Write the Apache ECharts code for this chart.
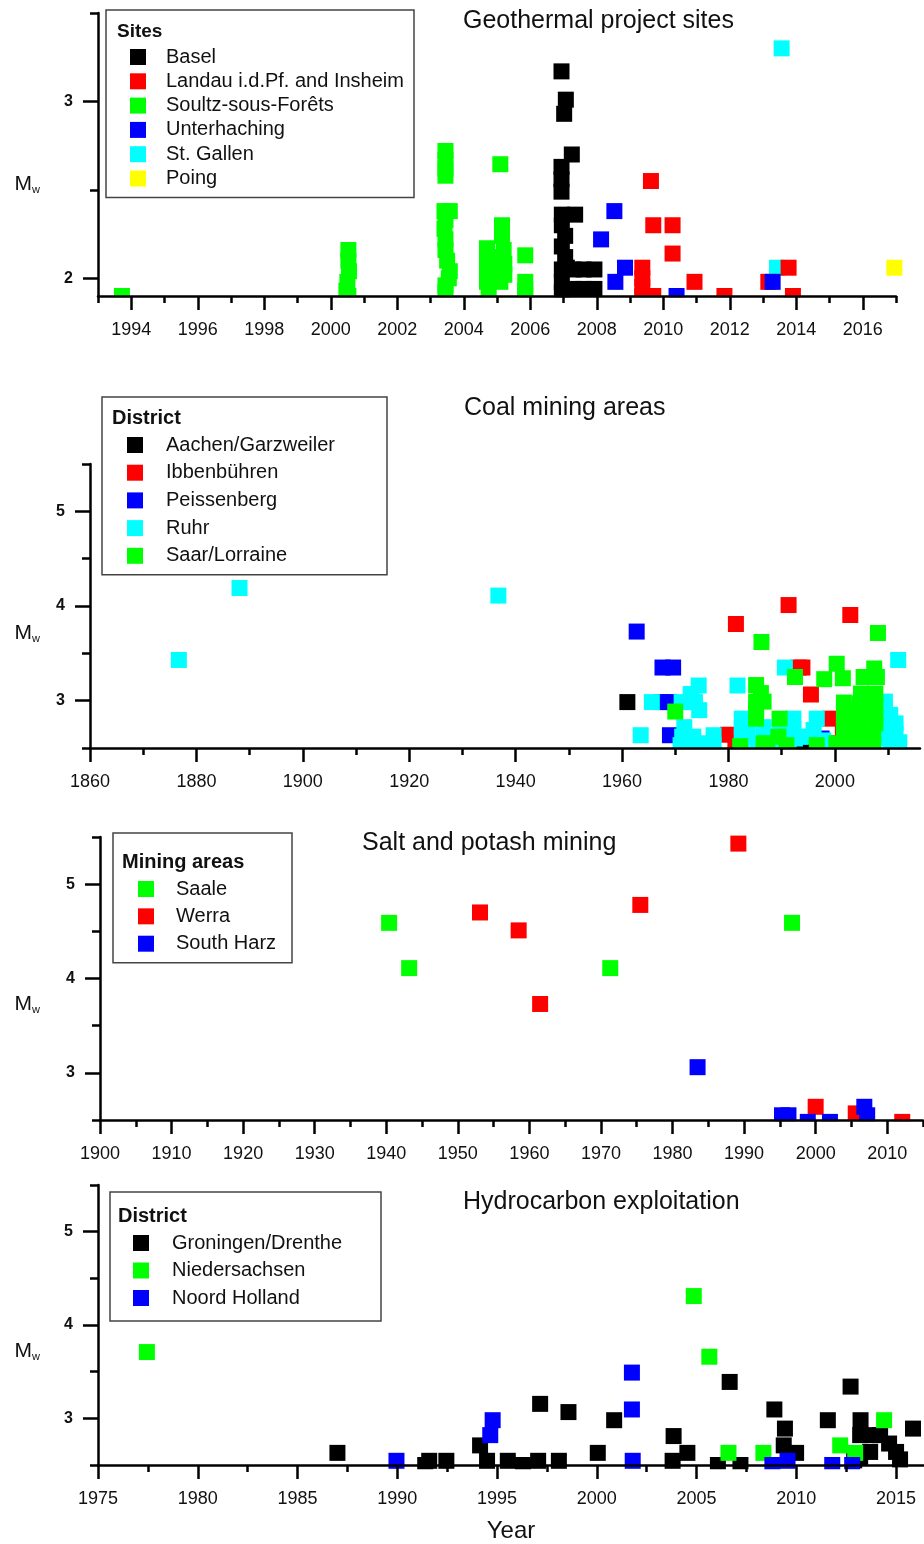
<!DOCTYPE html>
<html>
<head>
<meta charset="utf-8">
<script src="https://cdn.jsdelivr.net/npm/echarts@6/dist/echarts.min.js"></script>
<style>
html,body{margin:0;padding:0;background:#fff;}
#chart{width:924px;height:1544px;}
</style>
</head>
<body>
<div id="chart"></div>
<script>
// ---------- Panel titles / legend headers ----------
const panelTitles = ["Geothermal project sites", "Coal mining areas", "Salt and potash mining", "Hydrocarbon exploitation"];
const legendHeaders = ["Sites", "District", "Mining areas", "District"];

// ---------- Tick values ----------
const geoXMajor = [1994,1996,1998,2000,2002,2004,2006,2008,2010,2012,2014,2016];
const geoXMinor = [1993,1995,1997,1999,2001,2003,2005,2007,2009,2011,2013,2015,2017];
const geoYMajor = [2,3];
const geoYMinor = [2.5,3.5];
const coalXMajor = [1860,1880,1900,1920,1940,1960,1980,2000];
const coalXMinor = [1870,1890,1910,1930,1950,1970,1990,2010];
const saltXMajor = [1900,1910,1920,1930,1940,1950,1960,1970,1980,1990,2000,2010];
const saltXMinor = [1905,1915,1925,1935,1945,1955,1965,1975,1985,1995,2005,2015];
const hydroXMajor = [1975,1980,1985,1990,1995,2000,2005,2010,2015];
const hydroXMinor = [1977.5,1982.5,1987.5,1992.5,1997.5,2002.5,2007.5,2012.5];
const mwYMajor = [3,4,5];
const mwYMinor = [2.5,3.5,4.5,5.5];

// ---------- Panel 1: geothermal sites [year, Mw] ----------
const basel = [[2006.94,3.17],[2007.07,3.01],[2007.02,2.93],[2007.25,2.70],[2006.94,2.63],[2006.94,2.56],[2006.94,2.49],
  [2006.95,2.36],[2007.35,2.36],[2006.95,2.30],[2007.05,2.24],[2006.95,2.18],[2007.05,2.12],[2007.10,2.06],[2006.95,2.05],
  [2007.30,2.05],[2007.60,2.05],[2007.93,2.05],[2006.95,1.98],[2007.30,1.94],[2007.60,1.94],[2007.93,1.94],[2006.95,1.92]];
const landau = [[2009.63,2.55],[2009.70,2.30],[2010.28,2.30],[2010.28,2.14],[2009.37,2.06],[2009.37,2.00],[2009.37,1.95],
  [2009.37,1.90],[2009.70,1.90],[2010.94,1.98],[2011.84,1.90],[2013.16,1.98],[2013.77,2.06],[2013.90,1.90]];
const soultz = [[1993.72,1.90],
  [2000.53,2.16],[2000.53,2.10],[2000.55,2.04],[2000.50,1.98],[2000.47,1.93],[2000.53,1.90],
  [2003.45,2.72],[2003.45,2.67],[2003.45,2.62],[2003.45,2.58],
  [2003.58,2.38],[2003.42,2.38],[2003.45,2.33],[2003.42,2.28],[2003.45,2.22],[2003.45,2.16],[2003.50,2.10],
  [2003.58,2.04],[2003.55,2.00],[2003.45,1.96],[2003.45,1.92],
  [2005.10,2.645],
  [2004.70,2.17],[2004.70,2.10],[2004.70,2.04],[2004.70,1.98],[2004.95,2.12],[2004.95,2.03],[2005.15,2.30],[2005.15,2.24],
  [2005.20,2.16],[2005.22,2.08],[2005.22,2.02],[2005.10,1.98],[2004.75,1.90],
  [2005.85,2.13],[2005.85,1.98],[2005.85,1.93],[2005.85,1.90]];
const unterhaching = [[2008.53,2.38],[2008.13,2.22],[2008.56,1.98],[2008.85,2.06],[2010.40,1.90],[2013.29,1.98]];
const stGallen = [[2013.56,3.30],[2013.42,2.06]];
const poing = [[2016.95,2.06]];

// ---------- Panel 2: coal mining districts ----------
const aachen = [[1961.0,2.985],[1994.0,2.53]];
const ibbenbuehren = [[1981.4,3.81],[1991.3,4.01],[2002.9,3.905],[1993.2,3.35],[1993.9,3.35],[1995.5,3.065],[1979.9,2.64],
  [1999.2,2.81],[2001.5,2.68],[2005.6,3.05],[2007.3,2.95],[1981.3,2.52],[2000.3,2.55]];
const peissenberg = [[1962.75,3.73],[1967.6,3.35],[1969.6,3.35],[1967.6,2.985],[1968.9,2.985],[1969.0,2.635],[1997.5,2.60]];
const ruhr = [[1876.7,3.43],[1888.1,4.19],[1936.75,4.11],[1963.5,2.635],[1965.6,2.985],
  [1974.4,3.16],[1972.9,3.07],[1971.2,2.985],[1973.7,2.985],[1974.5,2.90],[1971.7,2.72],[1971.3,2.62],[1973.4,2.62],
  [1971.0,2.53],[1973.5,2.53],[1977.2,2.635],[1977.2,2.53],[1975.3,2.55],
  [1981.7,3.16],[1982.5,2.81],[1982.5,2.72],[1982.5,2.62],[1982.5,2.53],[1983.4,2.79],[1983.6,2.65],[1986.6,2.72],
  [1986.6,2.62],[1985.5,2.53],[1988.0,2.55],
  [1992.2,2.81],[1992.2,2.70],[1992.5,2.60],[1989.7,2.65],[1991.3,2.55],[1993.5,2.62],[1996.0,2.69],[1996.6,2.81],
  [1997.8,2.58],[1999.1,2.53],[1995.3,2.62],[1990.6,3.35],
  [2003.2,2.55],[2006.2,2.55],[2009.4,2.99],[2009.4,2.90],[2010.4,2.85],[2011.4,2.76],[2011.4,2.66],[2012.1,2.56],
  [2009.4,2.72],[2009.4,2.60],[2010.5,2.55],[2011.9,3.43]];
const saarLorraine = [[1970.0,2.885],[1985.2,3.165],[1986.1,3.08],[1985.2,2.99],[1985.2,2.90],[1985.2,2.81],[1986.2,3.62],
  [1986.6,2.99],[1989.6,2.81],[1989.4,2.62],[1992.5,3.25],[1998.0,3.227],[2000.35,3.39],[2001.5,3.237],[2005.4,3.25],
  [2007.4,3.34],[2007.9,3.25],[2008.1,3.715],
  [2001.7,2.98],[2001.7,2.90],[2001.7,2.81],[2001.7,2.72],[2001.7,2.63],[2001.0,2.53],
  [2004.9,3.075],[2004.7,2.97],[2004.7,2.86],[2004.7,2.76],[2004.7,2.65],[2004.7,2.55],
  [2007.6,3.075],[2007.6,2.97],[2007.6,2.86],[2007.6,2.76],[2007.2,2.65],[2007.2,2.55],
  [1987.3,2.55],[1990.9,2.53],[1986.6,2.55],[1982.2,2.52],[1996.6,2.53],[2003.4,2.53],[2005.9,2.55],[2000.3,2.55]];

// ---------- Panel 3: salt and potash mining ----------
const saale = [[1940.4,4.59],[1943.2,4.11],[1971.3,4.11],[1996.7,4.59]];
const werra = [[1953.1,4.70],[1958.5,4.51],[1961.5,3.73],[1975.5,4.78],[1989.2,5.43],[2000.0,2.64],[2005.6,2.57],[2012.1,2.48]];
const southHarz = [[1983.5,3.06],[1995.3,2.55],[1996.2,2.55],[1998.9,2.48],[2002.0,2.48],[2006.8,2.64],[2007.2,2.55]];

// ---------- Panel 4: hydrocarbon exploitation ----------
const groningen = [[1987.0,2.63],[1991.4,2.50],[1991.6,2.545],[1992.46,2.545],[1994.15,2.71],[1994.5,2.545],[1995.54,2.545],
  [1996.3,2.50],[1997.06,2.545],[1997.16,3.155],[1998.1,2.545],[1998.58,3.067],[2000.05,2.63],[2000.87,2.98],[2003.85,2.81],
  [2003.8,2.545],[2004.54,2.63],[2006.07,2.50],[2006.66,3.39],[2007.2,2.50],[2008.9,3.095],[2009.43,2.89],[2009.37,2.71],
  [2009.99,2.63],[2011.58,2.98],[2012.72,3.34],[2013.22,2.98],[2013.2,2.82],[2013.7,2.82],[2014.2,2.82],[2013.7,2.64],
  [2013.2,2.58],[2014.65,2.73],[2015.0,2.64],[2015.2,2.56],[2015.85,2.89],[2012.9,2.55]];
const niedersachsen = [[1977.45,3.71],[2004.86,4.31],[2005.64,3.66],[2006.6,2.63],[2008.35,2.63],[2012.2,2.71],[2012.95,2.63],[2014.4,2.98]];
const noordHolland = [[1989.96,2.545],[1994.78,2.98],[1994.66,2.82],[2001.76,3.49],[2001.76,3.095],[2001.8,2.545],
  [2008.8,2.50],[2009.56,2.545],[2011.8,2.50],[2012.8,2.50]];

// ---------- Build chart ----------
const FONT = "'Liberation Sans', Arial, sans-serif";
const C = {black:'#000000', red:'#ff0000', green:'#00ff00', blue:'#0000ff', cyan:'#00ffff', yellow:'#ffff00'};

const grids = [
  {left:98, top:13, width:798, height:283},
  {left:90, top:464, width:830, height:284},
  {left:100, top:837, width:823, height:283},
  {left:98, top:1185, width:826, height:283}
];

const axisLineStyle = {color:'#000', width:2.5};
const plain = v => String(v);

function xAxesFor(gi, min, max, major, minor, extra) {
  return [
    Object.assign({
      type:'value', gridIndex:gi, min:min, max:max, position:'bottom', z:10,
      axisLine:{show:true, onZero:false, lineStyle:axisLineStyle},
      axisTick:{show:true, inside:false, length:14, lineStyle:{color:'#000', width:2.5}, customValues:major},
      axisLabel:{show:true, customValues:major, margin:25, fontFamily:FONT, fontSize:18, color:'#111',
                 formatter:plain, showMinLabel:true, showMaxLabel:true},
      splitLine:{show:false}
    }, extra || {}),
    {
      type:'value', gridIndex:gi, min:min, max:max, position:'bottom', z:10,
      axisLine:{show:false},
      axisTick:{show:true, inside:false, length:7, lineStyle:{color:'#000', width:2.5}, customValues:minor},
      axisLabel:{show:false},
      splitLine:{show:false}
    }
  ];
}
function yAxesFor(gi, min, max, major, minor, nameGap, namePadTop) {
  return [
    {
      type:'value', gridIndex:gi, min:min, max:max, position:'left', z:10,
      name:'{m|M}{w|w}', nameLocation:'middle', nameRotate:0, nameGap:nameGap,
      nameTextStyle:{padding:[namePadTop,0,0,0],
        rich:{m:{fontFamily:FONT, fontSize:21, color:'#111', lineHeight:22},
              w:{fontFamily:FONT, fontSize:11, color:'#111', lineHeight:22, verticalAlign:'bottom'}}},
      axisLine:{show:true, onZero:false, lineStyle:axisLineStyle},
      axisTick:{show:true, inside:false, length:15, lineStyle:{color:'#000', width:2.5}, customValues:major},
      axisLabel:{show:true, customValues:major, margin:25, fontFamily:FONT, fontSize:16, fontWeight:'bold', color:'#111',
                 formatter:plain},
      splitLine:{show:false}
    },
    {
      type:'value', gridIndex:gi, min:min, max:max, position:'left', z:10,
      axisLine:{show:false},
      axisTick:{show:true, inside:false, length:8, lineStyle:{color:'#000', width:2.5}, customValues:minor},
      axisLabel:{show:false},
      splitLine:{show:false}
    }
  ];
}

const xAxis = [].concat(
  xAxesFor(0, 1993, 2017, geoXMajor, geoXMinor),
  xAxesFor(1, 1860, 2016, coalXMajor, coalXMinor),
  xAxesFor(2, 1900, 2015, saltXMajor, saltXMinor),
  xAxesFor(3, 1975, 2016.4, hydroXMajor, hydroXMinor,
    {name:'Year', nameLocation:'middle', nameGap:54,
     nameTextStyle:{fontFamily:FONT, fontSize:24, color:'#111', verticalAlign:'top'}})
);
const yAxis = [].concat(
  yAxesFor(0, 1.9, 3.5, geoYMajor, geoYMinor, 58, 59),
  yAxesFor(1, 2.5, 5.5, mwYMajor, mwYMinor, 50, 54),
  yAxesFor(2, 2.5, 5.5, mwYMajor, mwYMinor, 60, 51),
  yAxesFor(3, 2.5, 5.5, mwYMajor, mwYMinor, 58, 52)
);

function sc(name, gi, data, color, z) {
  return {
    type:'scatter', name:name, xAxisIndex:2*gi, yAxisIndex:2*gi, data:data,
    symbol:'rect', symbolSize:16, clip:false, z:z || 2, silent:true,
    itemStyle:{color:color, opacity:1},
    emphasis:{disabled:true}
  };
}

const panelSeries = [
  [['Basel', basel, C.black, 2], ['Landau i.d.Pf. and Insheim', landau, C.red, 3], ['Soultz-sous-Forêts', soultz, C.green, 2],
   ['Unterhaching', unterhaching, C.blue, 4], ['St. Gallen', stGallen, C.cyan, 2], ['Poing', poing, C.yellow, 2]],
  [['Aachen/Garzweiler', aachen, C.black], ['Ibbenbühren', ibbenbuehren, C.red], ['Peissenberg', peissenberg, C.blue],
   ['Ruhr', ruhr, C.cyan], ['Saar/Lorraine', saarLorraine, C.green]],
  [['Saale', saale, C.green], ['Werra', werra, C.red], ['South Harz', southHarz, C.blue]],
  [['Groningen/Drenthe', groningen, C.black], ['Niedersachsen', niedersachsen, C.green], ['Noord Holland', noordHolland, C.blue]]
];

const series = [];
panelSeries.forEach((list, gi) => list.forEach(s => series.push(sc(s[0], gi, s[1], s[2], s[3]))));

const legendLayout = [
  {left:106, top:10, padding:[37,8,9,24], itemGap:4.3, padL:15, w:240},
  {left:102, top:397, padding:[38,31,9,25], itemGap:7.7, padL:18, w:190},
  {left:113, top:833, padding:[46,6,9,25], itemGap:7.35, padL:17, w:110},
  {left:110, top:1192, padding:[41,19,13,23], itemGap:7.5, padL:18, w:190}
];
const legend = legendLayout.map((L, gi) => ({
  left:L.left, top:L.top, orient:'vertical', padding:L.padding, itemGap:L.itemGap,
  itemWidth:16, itemHeight:16, icon:'rect', selectedMode:false,
  borderColor:'#444', borderWidth:1.5, backgroundColor:'#fff',
  textStyle:{fontFamily:FONT, fontSize:20, color:'#111', lineHeight:20, padding:[0,0,0,L.padL], width:L.w},
  data:panelSeries[gi].map(s => s[0])
}));

const titlePos = [{left:463, top:9}, {left:464, top:395.5}, {left:362, top:830.5}, {left:463, top:1189.5}];
const headerPos = [{left:117, top:22.5, fs:19}, {left:112, top:408.5, fs:20}, {left:122, top:852, fs:20}, {left:118, top:1206.7, fs:20}];
const title = [];
panelTitles.forEach((t, i) => title.push({text:t, left:titlePos[i].left, top:titlePos[i].top, padding:0,
  textStyle:{fontFamily:FONT, fontSize:25, fontWeight:'normal', color:'#111', lineHeight:25}}));
legendHeaders.forEach((t, i) => title.push({text:t, left:headerPos[i].left, top:headerPos[i].top, padding:0, z:8,
  textStyle:{fontFamily:FONT, fontSize:headerPos[i].fs, fontWeight:'bold', color:'#111', lineHeight:headerPos[i].fs}}));

// white masks below each x axis so that markers are cut at the axis line (as in the original)
const graphic = grids.map(g => ({
  type:'rect', z:5, silent:true,
  shape:{x:g.left - 10, y:g.top + g.height + 1.2, width:g.width + 30, height:9},
  style:{fill:'#fff'}
}));

const chart = echarts.init(document.getElementById('chart'), null, {renderer:'canvas'});
chart.setOption({
  animation:false,
  backgroundColor:'#fff',
  title:title,
  legend:legend,
  grid:grids,
  xAxis:xAxis,
  yAxis:yAxis,
  series:series,
  graphic:graphic
});
</script>
</body>
</html>
